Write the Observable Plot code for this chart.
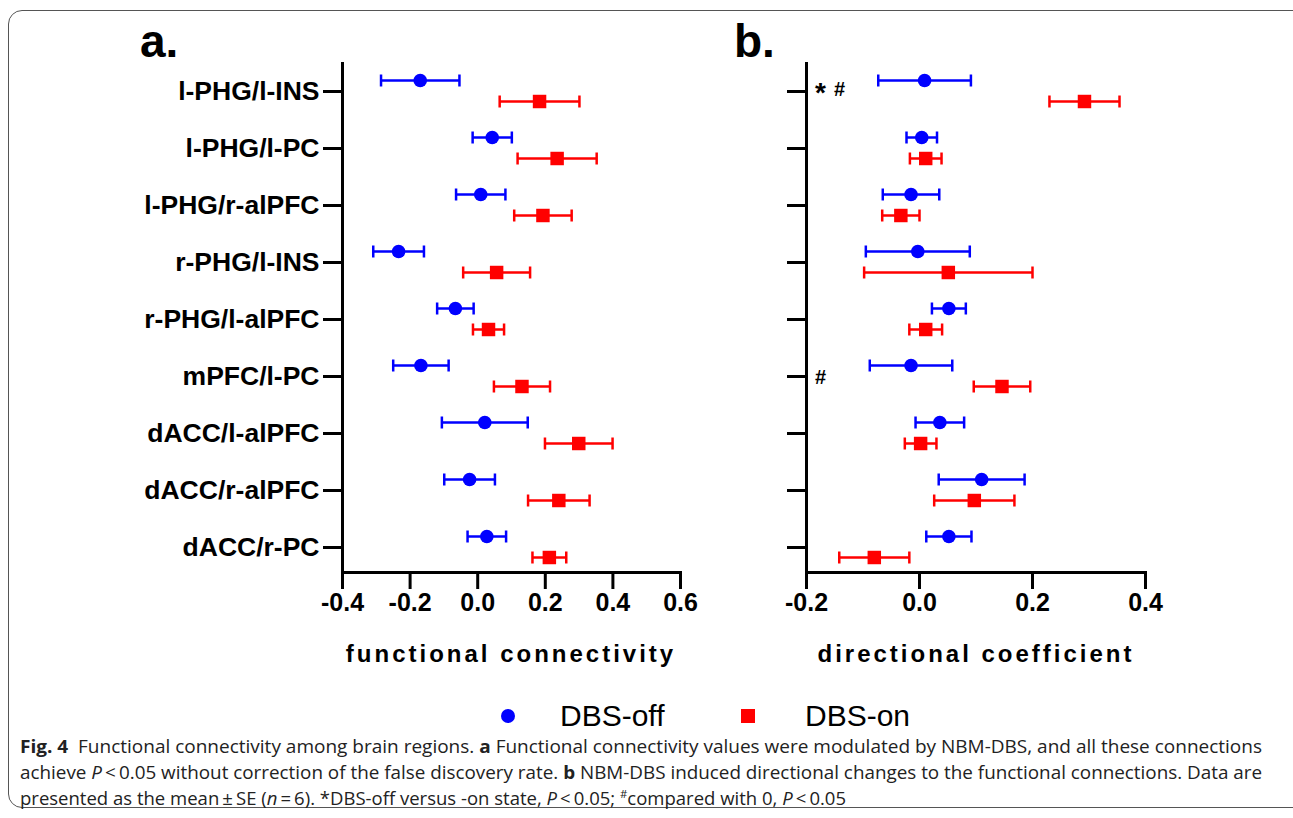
<!DOCTYPE html>
<html><head><meta charset="utf-8">
<script src="https://cdn.jsdelivr.net/npm/d3@7"></script>
<script src="https://cdn.jsdelivr.net/npm/@observablehq/plot@0.6"></script>
<style>
body{margin:0;background:#fff;width:1293px;height:818px;overflow:hidden;position:relative;font-family:"Liberation Sans",Arial,sans-serif;color:#000;}
#border{position:absolute;left:8px;top:10px;width:1320px;height:798px;border:1.5px solid #555;border-radius:14px;box-sizing:border-box;}
.panel{position:absolute;top:0;}
.ptitle{position:absolute;font-weight:bold;font-size:46px;top:18px;line-height:46px;}
.xlabel{position:absolute;font-weight:bold;font-size:24px;letter-spacing:3px;top:640px;transform:translateX(-50%);white-space:nowrap;}
.leg{position:absolute;top:700px;font-size:30px;line-height:32px;white-space:nowrap;}
.legsym{position:absolute;display:block;}
.cap{position:absolute;left:20px;font-family:"Open Sans","Noto Sans","Liberation Sans",sans-serif;font-size:18px;line-height:24px;white-space:nowrap;color:#222;transform-origin:0 50%;display:inline-block;}
.cap sup{font-size:11px;line-height:0;}
</style></head>
<body>
<div id="border"></div>
<div class="ptitle" style="left:140px">a.</div>
<div class="ptitle" style="left:734px">b.</div>
<div id="pa" class="panel" style="left:0px"></div>
<div id="pb" class="panel" style="left:700px"></div>
<div class="xlabel" style="left:511px">functional connectivity</div>
<div class="xlabel" style="left:976px">directional coefficient</div>
<div id="legend"></div>
<div class="cap" id="c1" style="top:734px"><b>Fig. 4</b>&nbsp; Functional connectivity among brain regions. <b>a</b> Functional connectivity values were modulated by NBM-DBS, and all these connections</div>
<div class="cap" id="c2" style="top:760px">achieve <i>P</i>&thinsp;&lt;&thinsp;0.05 without correction of the false discovery rate. <b>b</b> NBM-DBS induced directional changes to the functional connections. Data are</div>
<div class="cap" id="c3" style="top:786px">presented as the mean&thinsp;±&thinsp;SE (<i>n</i>&thinsp;=&thinsp;6). *DBS-off versus -on state, <i>P</i>&thinsp;&lt;&thinsp;0.05; <sup>#</sup>compared with 0, <i>P</i>&thinsp;&lt;&thinsp;0.05</div>
<script>
// ---- data ----
const categories = ["l-PHG/l-INS","l-PHG/l-PC","l-PHG/r-alPFC","r-PHG/l-INS","r-PHG/l-alPFC","mPFC/l-PC","dACC/l-alPFC","dACC/r-alPFC","dACC/r-PC"];
const seriesNames = ["DBS-off","DBS-on"];
const seriesColors = ["#0000ff","#ff0000"];

// panel a: functional connectivity (mean, SE)
const fcOffMean = [-0.170, 0.043, 0.009, -0.234, -0.066, -0.168, 0.021, -0.024, 0.027];
const fcOffSE   = [ 0.116, 0.058, 0.073,  0.075,  0.054,  0.082, 0.127,  0.075, 0.057];
const fcOnMean  = [ 0.183, 0.235, 0.193,  0.056,  0.032,  0.131, 0.299,  0.240, 0.212];
const fcOnSE    = [ 0.118, 0.117, 0.085,  0.099,  0.046,  0.083, 0.100,  0.091, 0.050];

// panel b: directional coefficient (mean, SE)
const dcOffMean = [ 0.009, 0.004, -0.015, -0.003, 0.052, -0.015, 0.036, 0.110, 0.052];
const dcOffSE   = [ 0.082, 0.027,  0.050,  0.092, 0.030,  0.073, 0.043, 0.076, 0.040];
const dcOnMean  = [ 0.292, 0.011, -0.033,  0.051, 0.011,  0.146, 0.002, 0.097, -0.080];
const dcOnSE    = [ 0.062, 0.028,  0.033,  0.149, 0.029,  0.050, 0.028, 0.071, 0.062];

const fcTicks = [-0.4, -0.2, 0.0, 0.2, 0.4, 0.6];
const dcTicks = [-0.2, 0.0, 0.2, 0.4];

// significance marks in panel b: * DBS-off vs -on, # compared with 0
const starRows = ["l-PHG/l-INS"];
const hashRows = ["l-PHG/l-INS", "mPFC/l-PC"];

// ---- drawing ----
const vline = {draw(ctx, size){ const r = Math.sqrt(size/Math.PI); ctx.moveTo(0,-r); ctx.lineTo(0,r); }};

function panel({offMean, offSE, onMean, onSE, ticks, width, marginLeft, marginRight, labels, annotate}) {
  const rows = categories.map((c,i)=>({cat:c, offMean:offMean[i], offSE:offSE[i], onMean:onMean[i], onSE:onSE[i]}));
  const H = 640;
  const series = [
    {m:"offMean", s:"offSE", color:seriesColors[0], symbol:"circle", r:6.8, dy:-11},
    {m:"onMean", s:"onSE", color:seriesColors[1], symbol:"square", r:7.6, dy:10}
  ];
  const marks = [
    Plot.axisY({tickSize:19, tickPadding:4, strokeWidth:3, fontSize:26.5, fontWeight:"bold", label:null,
      tickFormat: labels ? (d=>d) : (()=>"")}),
    Plot.axisX({ticks, tickSize:17, tickPadding:4, strokeWidth:3, fontSize:25, fontWeight:"bold", label:null,
      tickFormat: d=>d.toFixed(1)}),
    Plot.frame({anchor:"left", strokeWidth:3}),
    Plot.frame({anchor:"bottom", strokeWidth:3})
  ];
  for (const sr of series) {
    marks.push(Plot.ruleY(rows, {y:"cat", x1:d=>d[sr.m]-d[sr.s], x2:d=>d[sr.m]+d[sr.s], stroke:sr.color, strokeWidth:2.5, dy:sr.dy}));
    marks.push(Plot.dot(rows, {y:"cat", x:d=>d[sr.m]-d[sr.s], symbol:vline, r:6, stroke:sr.color, strokeWidth:2.5, fill:"none", dy:sr.dy}));
    marks.push(Plot.dot(rows, {y:"cat", x:d=>d[sr.m]+d[sr.s], symbol:vline, r:6, stroke:sr.color, strokeWidth:2.5, fill:"none", dy:sr.dy}));
    marks.push(Plot.dot(rows, {y:"cat", x:sr.m, symbol:sr.symbol, r:sr.r, fill:sr.color, stroke:"none", dy:sr.dy}));
  }
  if (annotate) {
    const hashAfterStar = hashRows.filter(r => starRows.includes(r));
    const hashAlone = hashRows.filter(r => !starRows.includes(r));
    marks.push(Plot.text(starRows, {y:d=>d, text:()=>"*", frameAnchor:"left", textAnchor:"middle", dx:14, dy:2, fontSize:28, fontWeight:"bold"}));
    marks.push(Plot.text(hashAfterStar, {y:d=>d, text:()=>"#", frameAnchor:"left", textAnchor:"middle", dx:33, dy:-2, fontSize:20, fontWeight:"bold"}));
    marks.push(Plot.text(hashAlone, {y:d=>d, text:()=>"#", frameAnchor:"left", textAnchor:"middle", dx:14, dy:1, fontSize:20, fontWeight:"bold"}));
  }
  return Plot.plot({
    width, height:H, marginTop:63, marginBottom:H-572, marginLeft, marginRight,
    x:{domain:[ticks[0], ticks[ticks.length-1]]},
    y:{type:"point", domain:categories, range:[91,547], padding:0},
    style:{fontFamily:"Liberation Sans, Arial, sans-serif", fontWeight:"bold", fontSize:"24px", color:"#000", background:"transparent", overflow:"visible"},
    marks
  });
}

document.getElementById("pa").append(panel({offMean:fcOffMean, offSE:fcOffSE, onMean:fcOnMean, onSE:fcOnSE,
  ticks:fcTicks, width:700, marginLeft:342, marginRight:20, labels:true}));
document.getElementById("pb").append(panel({offMean:dcOffMean, offSE:dcOffSE, onMean:dcOnMean, onSE:dcOnSE,
  ticks:dcTicks, width:593, marginLeft:106, marginRight:148, labels:false, annotate:true}));

// legend
const legend = document.getElementById("legend");
const legX = [[508,560],[748,805]];
seriesNames.forEach((name,i)=>{
  const ns = "http://www.w3.org/2000/svg";
  const svg = document.createElementNS(ns, "svg");
  svg.setAttribute("width", 16); svg.setAttribute("height", 16);
  svg.setAttribute("class", "legsym");
  svg.style.left = (legX[i][0]-8)+"px";
  svg.style.top = "708px";
  svg.innerHTML = i===0
    ? `<circle cx="8" cy="8" r="7" fill="${seriesColors[i]}"/>`
    : `<rect x="1" y="1" width="14" height="14" fill="${seriesColors[i]}"/>`;
  legend.append(svg);
  const t = document.createElement("div");
  t.className = "leg";
  t.style.left = legX[i][1]+"px";
  t.textContent = name;
  legend.append(t);
});

// fit caption lines to reference widths
const targets = {c1:1242, c2:1242, c3:826};
for (const id in targets) {
  const el = document.getElementById(id);
  const w = el.getBoundingClientRect().width;
  el.style.transform = `scaleX(${targets[id]/w})`;
}
</script>
</body></html>
